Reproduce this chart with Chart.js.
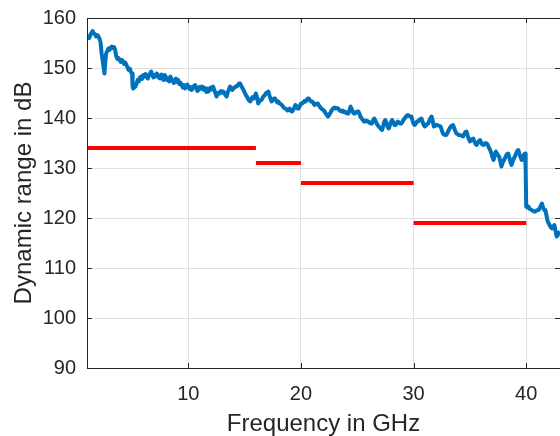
<!DOCTYPE html>
<html>
<head>
<meta charset="utf-8">
<script src="https://cdn.jsdelivr.net/npm/chart.js@4.4.1/dist/chart.umd.min.js"></script>
<style>
html,body{margin:0;padding:0;background:#fff;overflow:hidden;}
canvas{display:block;}
</style>
</head>
<body>
<canvas id="c" width="561" height="436"></canvas>
<script>
// ---- data ----
const freqGHz = [1.0,1.1,1.2,1.3,1.4,1.5,1.6,1.7,1.8,1.9,2.0,2.1,2.2,2.3,2.4,2.5,2.55,2.6,2.7,2.8,2.9,3.0,3.1,3.2,3.3,3.4,3.5,3.6,3.7,3.8,3.9,4.0,4.1,4.2,4.3,4.4,4.5,4.6,4.7,4.8,4.9,5.0,5.05,5.1,5.2,5.3,5.4,5.5,5.6,5.7,5.8,5.9,6.0,6.1,6.2,6.3,6.4,6.5,6.6,6.7,6.8,6.9,7.0,7.1,7.2,7.3,7.4,7.5,7.6,7.7,7.8,7.9,8.0,8.1,8.2,8.3,8.4,8.5,8.6,8.7,8.8,8.9,9.0,9.1,9.2,9.3,9.4,9.5,9.6,9.7,9.8,9.9,10.0,10.1,10.2,10.3,10.4,10.5,10.6,10.7,10.8,10.9,11.0,11.1,11.2,11.3,11.4,11.5,11.6,11.7,11.8,11.9,12.0,12.1,12.2,12.3,12.4,12.5,12.6,12.7,12.8,12.9,13.0,13.1,13.2,13.3,13.4,13.5,13.6,13.7,13.8,13.9,14.0,14.1,14.2,14.3,14.4,14.5,14.6,14.7,14.8,14.9,15.0,15.1,15.2,15.3,15.4,15.5,15.6,15.7,15.8,15.9,16.0,16.1,16.2,16.3,16.4,16.5,16.6,16.7,16.8,16.9,17.0,17.1,17.2,17.3,17.4,17.5,17.6,17.7,17.8,17.9,18.0,18.1,18.2,18.3,18.4,18.5,18.6,18.7,18.8,18.9,19.0,19.1,19.2,19.3,19.4,19.5,19.6,19.7,19.8,19.9,20.0,20.1,20.2,20.3,20.4,20.5,20.6,20.7,20.8,20.9,21.0,21.1,21.2,21.3,21.4,21.5,21.6,21.7,21.8,21.9,22.0,22.1,22.2,22.3,22.4,22.5,22.6,22.7,22.8,22.9,23.0,23.1,23.2,23.3,23.4,23.5,23.6,23.7,23.8,23.9,24.0,24.1,24.2,24.3,24.4,24.5,24.6,24.7,24.8,24.9,25.0,25.1,25.2,25.3,25.4,25.5,25.6,25.7,25.8,25.9,26.0,26.1,26.2,26.3,26.4,26.5,26.6,26.7,26.8,26.9,27.0,27.1,27.2,27.3,27.4,27.5,27.6,27.7,27.8,27.9,28.0,28.1,28.2,28.3,28.4,28.5,28.6,28.7,28.8,28.9,29.0,29.1,29.2,29.3,29.4,29.5,29.6,29.7,29.8,29.9,30.0,30.1,30.2,30.3,30.4,30.5,30.6,30.7,30.8,30.9,31.0,31.1,31.2,31.3,31.4,31.5,31.6,31.7,31.8,31.9,32.0,32.1,32.2,32.3,32.4,32.5,32.6,32.7,32.8,32.9,33.0,33.1,33.2,33.3,33.4,33.5,33.6,33.7,33.8,33.9,34.0,34.1,34.2,34.3,34.4,34.5,34.6,34.7,34.8,34.9,35.0,35.1,35.2,35.3,35.4,35.5,35.6,35.7,35.8,35.9,36.0,36.1,36.2,36.3,36.4,36.5,36.6,36.7,36.8,36.9,37.0,37.1,37.2,37.3,37.4,37.5,37.6,37.7,37.8,37.9,38.0,38.1,38.2,38.3,38.4,38.5,38.6,38.7,38.8,38.9,39.0,39.1,39.2,39.3,39.4,39.5,39.6,39.7,39.8,39.9,39.95,40.0,40.1,40.2,40.3,40.4,40.5,40.6,40.7,40.8,40.9,41.0,41.1,41.2,41.3,41.4,41.5,41.6,41.7,41.8,41.9,42.0,42.1,42.2,42.3,42.4,42.5,42.6,42.7,42.8,42.9,43.0];
const dynRange = [155.9,156.3,156.0,156.6,157.0,157.4,156.9,156.8,156.3,156.6,156.4,155.9,155.2,152.9,151.3,149.8,148.9,150.5,152.9,153.4,153.9,153.6,154.1,154.3,154.0,154.2,153.6,152.3,151.8,152.0,151.6,151.2,151.6,151.3,150.8,151.1,150.6,150.1,149.6,149.9,149.2,148.9,146.2,145.9,146.1,146.3,146.9,147.6,147.3,148.1,148.3,147.8,148.6,148.3,148.8,148.2,147.9,148.5,148.9,149.3,148.6,148.1,148.6,148.3,148.9,148.5,148.0,147.9,148.7,148.1,147.6,148.6,148.2,147.6,147.9,147.3,148.3,147.8,147.5,147.0,147.3,147.9,147.2,147.6,146.8,147.1,146.6,146.1,146.6,145.9,146.3,146.7,146.3,145.8,146.2,145.6,146.0,146.4,146.6,146.0,145.4,145.6,146.2,145.9,146.3,145.7,146.1,145.6,145.2,145.9,145.3,145.8,146.1,145.7,146.3,145.6,145.0,144.3,144.8,145.1,144.9,145.4,145.1,145.3,144.9,144.6,144.3,145.2,145.7,146.3,146.0,145.6,145.9,146.1,146.3,146.3,146.6,146.9,146.9,146.4,146.0,145.6,145.1,144.6,144.3,143.8,143.5,143.3,143.9,144.2,143.9,144.4,144.9,144.1,142.9,143.3,143.6,143.6,144.1,144.4,144.6,145.0,145.1,145.3,144.5,143.8,143.3,143.6,143.9,143.9,143.5,143.1,143.3,142.9,142.8,142.6,142.3,142.0,141.9,141.8,141.5,141.6,141.9,141.4,141.3,141.6,142.0,142.6,142.4,141.9,141.9,142.4,142.9,142.9,143.1,143.4,143.3,143.6,143.9,143.9,143.5,143.3,143.3,143.0,142.6,142.7,142.9,142.9,142.5,142.2,141.9,141.7,141.6,141.3,140.9,140.6,140.3,140.6,141.0,141.4,141.8,142.0,142.1,141.9,142.0,141.9,141.6,141.4,141.3,141.5,141.2,141.3,141.0,140.9,140.9,141.5,142.3,141.8,141.2,140.9,140.9,141.2,141.3,141.3,140.8,140.2,139.9,139.6,139.3,139.3,139.5,139.3,139.3,139.0,138.9,138.9,139.5,139.9,139.5,139.0,138.6,138.3,138.1,137.8,137.6,138.4,139.3,139.6,138.9,138.2,137.9,138.6,139.2,139.6,139.1,138.6,138.6,139.0,139.3,139.0,138.9,138.9,139.2,139.6,139.9,140.2,140.5,140.6,140.4,140.3,140.3,139.5,138.8,138.6,138.9,139.3,139.3,139.6,139.8,139.9,139.2,138.6,138.3,138.5,138.8,138.9,139.5,140.0,140.3,139.4,138.3,138.4,138.6,138.6,138.5,138.4,138.3,137.6,136.9,136.7,136.6,136.6,137.0,137.5,137.9,138.3,138.5,138.6,138.0,137.4,136.9,136.8,136.6,136.6,136.5,136.4,136.3,136.8,137.2,137.3,136.5,135.8,135.3,135.5,135.8,135.9,135.3,134.8,134.6,135.0,135.4,135.6,135.1,134.7,134.6,134.8,135.0,134.9,134.5,134.0,133.6,133.0,132.2,131.6,132.5,133.3,132.9,132.5,132.3,131.3,130.3,131.0,131.5,131.9,132.4,132.8,132.9,132.1,131.2,130.6,131.3,131.9,132.3,132.9,133.4,133.6,132.8,132.1,131.6,132.2,132.7,132.9,130.0,122.3,122.1,122.3,121.8,121.7,121.6,121.4,121.3,121.3,121.5,121.6,121.6,122.0,122.5,122.9,122.1,121.6,121.6,120.5,119.4,118.9,118.5,118.1,117.9,118.3,118.6,117.5,116.3,116.6,117.0,117.3];
const limitStart = [1, 16, 20, 30];
const limitEnd   = [16, 20, 30, 40];
const limitValue = [134, 131, 127, 119];
const xTickValues = [10, 20, 30, 40];
const yTickValues = [90, 100, 110, 120, 130, 140, 150, 160];

const AX = '#262626';
const FONT = 'Arial, "Liberation Sans", Helvetica, sans-serif';

const measured = freqGHz.map((f, i) => ({x: f, y: dynRange[i]}));
const limitSets = limitStart.map((s, i) => ({
  data: [{x: s, y: limitValue[i]}, {x: limitEnd[i], y: limitValue[i]}],
  borderColor: '#ff0000', borderWidth: 4, pointRadius: 0, borderCapStyle: 'butt'
}));

const framePlugin = {
  id: 'frame',
  afterDatasetsDraw(chart) {
    const {ctx, chartArea: a, scales: {x, y}} = chart;
    const L = 5;
    ctx.save();
    ctx.strokeStyle = AX;
    ctx.lineWidth = 1;
    ctx.beginPath();
    ctx.rect(Math.round(a.left) + 0.5, Math.round(a.top) + 0.5,
             Math.round(a.right) - Math.round(a.left), Math.round(a.bottom) - Math.round(a.top));
    for (const v of xTickValues) {
      const px = Math.round(x.getPixelForValue(v)) + 0.5;
      ctx.moveTo(px, a.bottom); ctx.lineTo(px, a.bottom - L);
      ctx.moveTo(px, a.top); ctx.lineTo(px, a.top + L);
    }
    for (const v of yTickValues) {
      const py = Math.round(y.getPixelForValue(v)) + 0.5;
      ctx.moveTo(a.left, py); ctx.lineTo(a.left + L, py);
      ctx.moveTo(a.right, py); ctx.lineTo(a.right - L, py);
    }
    ctx.stroke();
    ctx.restore();
  }
};

new Chart(document.getElementById('c'), {
  type: 'line',
  data: {
    datasets: [
      {data: measured, borderColor: '#0072BD', borderWidth: 4, pointRadius: 0, tension: 0, borderJoinStyle: 'round'},
      ...limitSets
    ]
  },
  options: {
    responsive: false,
    animation: false,
    layout: {padding: {top: 18, right: 1, left: 0, bottom: 0}},
    plugins: {legend: {display: false}, tooltip: {enabled: false}},
    scales: {
      x: {
        type: 'linear', min: 1, max: 43,
        afterBuildTicks: s => { s.ticks = xTickValues.map(v => ({value: v})); },
        afterFit: s => { s.height = 68; s.paddingLeft = 0; s.paddingRight = 0; s.paddingTop = 0; s.paddingBottom = 0; },
        grid: {color: '#e0e0e0', drawTicks: false},
        border: {display: false},
        ticks: {color: AX, font: {family: FONT, size: 20}, padding: 14, maxRotation: 0},
        title: {display: true, text: 'Frequency in GHz', color: AX,
                font: {family: FONT, size: 24, lineHeight: 1.0}, padding: {top: 0, bottom: 0}}
      },
      y: {
        type: 'linear', min: 90, max: 160,
        afterBuildTicks: s => { s.ticks = yTickValues.map(v => ({value: v})); },
        afterFit: s => { s.width = 87; s.paddingTop = 0; s.paddingBottom = 0; s.paddingLeft = 0; s.paddingRight = 0; },
        grid: {color: '#e0e0e0', drawTicks: false},
        border: {display: false},
        ticks: {color: AX, font: {family: FONT, size: 20}, padding: 11},
        title: {display: true, text: 'Dynamic range in dB', color: AX,
                font: {family: FONT, size: 24, lineHeight: 1.0}, padding: {top: 12, bottom: 0}}
      }
    }
  },
  plugins: [framePlugin]
});
</script>
</body>
</html>
